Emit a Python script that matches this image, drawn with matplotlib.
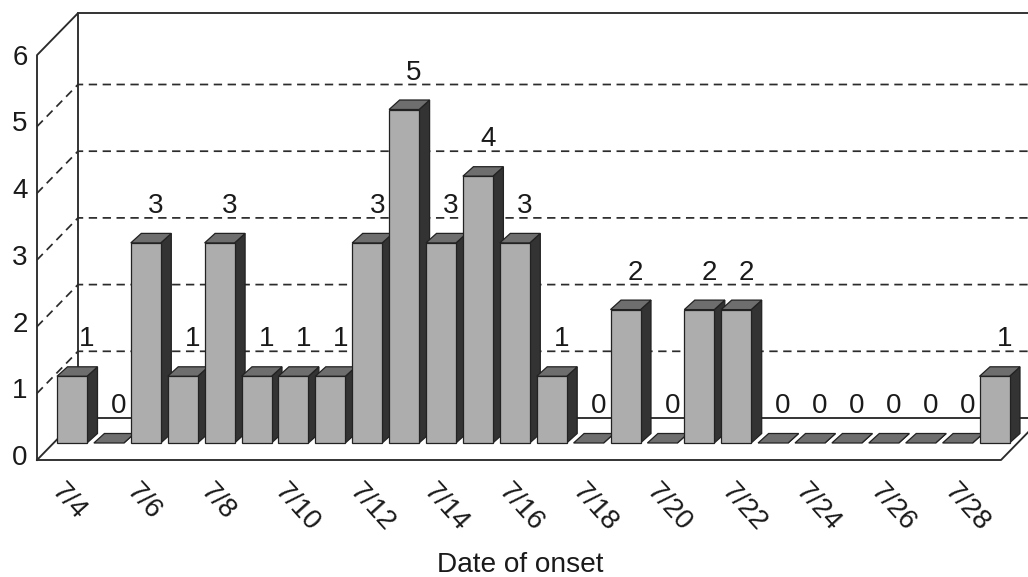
import matplotlib
matplotlib.use('Agg')
import matplotlib.pyplot as plt
import numpy as np

plt.rcParams['font.family'] = ['Liberation Sans', 'DejaVu Sans']

# data
dates = ['7/4', '7/5', '7/6', '7/7', '7/8', '7/9', '7/10', '7/11', '7/12', '7/13',
         '7/14', '7/15', '7/16', '7/17', '7/18', '7/19', '7/20', '7/21', '7/22', '7/23',
         '7/24', '7/25', '7/26', '7/27', '7/28', '7/29']
cases = [1, 0, 3, 1, 3, 1, 1, 1, 3, 5, 3, 4, 3, 1, 0, 2, 0, 2, 2, 0, 0, 0, 0, 0, 0, 1]
y_ticks = [0, 1, 2, 3, 4, 5, 6]
xlabel = 'Date of onset'

# pixel scale of the data axes
W, H = 1028, 577
px_x = 36.9   # px per category
px_y = 66.7   # px per case
x0, y0 = 72, 443  # pixel of category 0, value 0

def dx(p):
    return p / px_x

def dy(p):
    return p / px_y

fig = plt.figure(figsize=(W / 100, H / 100), dpi=100)
ax = fig.add_axes([0, 0, 1, 1])
ax.set_xlim(-x0 / px_x, (W - x0) / px_x)
ax.set_ylim((y0 - H) / px_y, y0 / px_y)
ax.axis('off')

# 3d box
front_l, front_r = dx(37 - x0), dx(1001 - x0)
depth_x, depth_y = dx(41), dy(42)
floor = dy(y0 - 460)
top = 6.07
frame = dict(color='#2b2b2b', lw=1.35, zorder=1, solid_capstyle='projecting')
ax.plot([front_l, front_r, front_r + depth_x], [floor, floor, floor + depth_y], **frame)
ax.plot([front_l, front_l + depth_x, front_r + depth_x], [floor, floor + depth_y, floor + depth_y], **frame)
ax.plot([front_l, front_l, front_l + depth_x, front_l + depth_x],
        [floor, floor + top, floor + top + depth_y, floor + depth_y], **frame)
ax.plot([front_l + depth_x, front_r + depth_x], [floor + top + depth_y] * 2, **frame)

# dashed grid on the side and back walls
for v in y_ticks[1:-1]:
    ax.plot([front_l, front_l + depth_x, front_r + depth_x],
            [floor + v, floor + depth_y + v, floor + depth_y + v],
            color='#2b2b2b', lw=1.25, ls=(0, (4.8, 3.2)), zorder=1)

# bars, left to right so the next one hides the side of the previous
bw = 30 / px_x
ox, oy = dx(10.5), dy(9.5)
for i, v in enumerate(cases):
    z = 3 + i
    l, r = i - bw / 2, i + bw / 2
    edge = dict(edgecolor='#222222', linewidth=0.9, zorder=z)
    ax.fill([r, r + ox, r + ox, r], [0, oy, v + oy, v], facecolor='#333333', **edge)
    ax.fill([l, r, r + ox, l + ox], [v, v, v + oy, v + oy], facecolor='#6e6e6e', **edge)
    if v > 0:
        ax.bar(i, v, width=bw, color='#adadad', **edge)
    # first label sits further right in the original
    shift = 15 if i == 0 else 10
    ax.text(i + dx(shift), v + dy(37), str(v), ha='center', va='center',
            fontsize=20, color='#1a1a1a', zorder=40)

# axis texts
for v in y_ticks:
    ax.text(dx(20 - x0), v + dy(y0 - 458), str(v), ha='center', va='center',
            fontsize=20, color='#1a1a1a')
# the rotated labels run a little wider than the bars
label_step = 37.2
for i in range(0, len(dates) - 1, 2):
    ax.text(dx(56 - x0 + label_step * i), dy(y0 - 487), dates[i], ha='left', va='center',
            rotation=-48, rotation_mode='anchor', fontsize=20, color='#1a1a1a')
ax.text(dx(520 - x0), dy(y0 - 565), xlabel, ha='center', va='center',
        fontsize=20.2, color='#1a1a1a')

fig.savefig('out.png', dpi=100)
